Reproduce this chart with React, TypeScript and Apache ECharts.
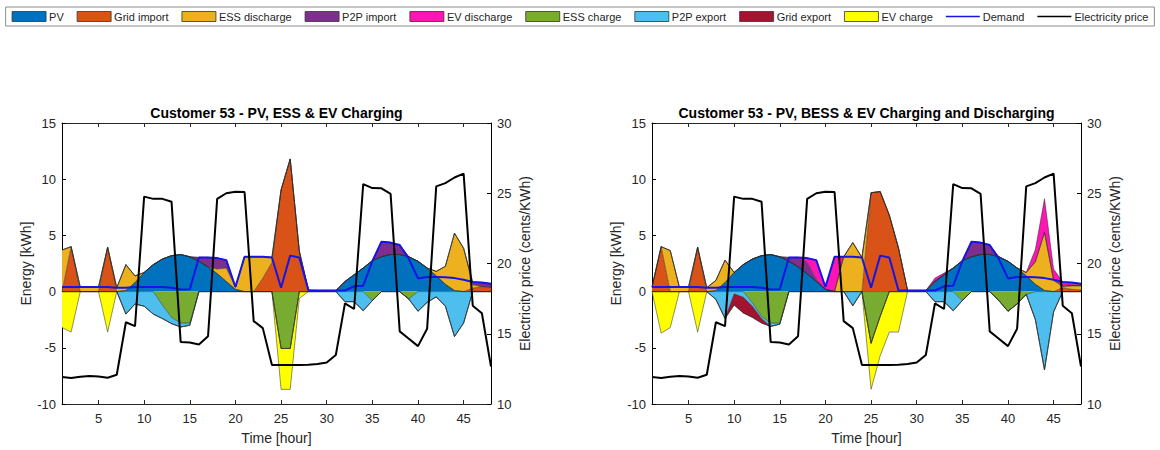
import React, { useEffect, useRef } from "react";
import * as echarts from "echarts";

// Hour of the 48-hour horizon
const hours = [
  1, 2, 3, 4, 5, 6, 7, 8, 9, 10, 11, 12, 13, 14, 15, 16, 17, 18, 19, 20, 21, 22, 23, 24,
  25, 26, 27, 28, 29, 30, 31, 32, 33, 34, 35, 36, 37, 38, 39, 40, 41, 42, 43, 44, 45, 46, 47, 48,
];
const xTicks = [5, 10, 15, 20, 25, 30, 35, 40, 45];

// Electricity price (cents/kWh), same tariff in both scenarios
const price = [
  11.92, 11.85, 11.94, 12.0, 11.96, 11.87, 12.08, 15.82, 15.54, 24.76, 24.6, 24.6, 24.4, 14.42, 14.37, 14.23,
  14.82, 24.6, 25.0, 25.1, 25.09, 15.9, 15.4, 12.78, 12.78, 12.78, 12.78, 12.8, 12.85, 12.95, 13.49, 17.16,
  16.76, 25.65, 25.37, 25.35, 24.95, 15.17, 14.65, 14.12, 15.36, 25.49, 25.72, 26.12, 26.4, 17.0, 16.46, 12.67,
];

// Household demand (kWh)
const demand = [
  0.41, 0.4, 0.4, 0.4, 0.4, 0.4, 0.35, 0.35, 0.4, 0.4, 0.4, 0.4, 0.35, 0.18, 0.2, 3.04,
  3.04, 2.98, 2.8, 0.41, 3.1, 3.1, 3.1, 3.04, 0.35, 3.2, 3.04, 0.12, 0.1, 0.1, 0.1, 0.1,
  0.47, 0.53, 2.7, 4.44, 4.36, 4.15, 2.9, 1.17, 1.3, 1.3, 1.28, 1.2, 1.05, 0.85, 0.8, 0.7,
];

// PV generation (kWh)
const pv = [
  0, 0, 0, 0, 0, 0, 0, 0.1, 0.8, 1.7, 2.4, 2.9, 3.2, 3.3, 3.1, 2.7,
  2.2, 1.6, 0.9, 0.2, 0, 0, 0, 0, 0, 0, 0, 0, 0, 0, 0, 0.9,
  1.5, 2.1, 2.75, 3.1, 3.3, 3.3, 3.1, 2.7, 2.1, 1.4, 0.65, 0.1, 0, 0, 0, 0,
];

// Scenario 1: PV, ESS & EV charging
const gridImportA = [
  0, 4.0, 0, 0, 0, 3.95, 0, 0, 0, 0, 0, 0, 0, 0, 0, 0,
  0, 0, 0, 0, 0, 0, 1.2, 2.6, 9.05, 11.8, 3.6, 0.12, 0.1, 0.1, 0.1, 0,
  0, 0, 0, 0, 0, 0, 0, 0, 0, 0, 0, 0, 0, 0.3, 0.45, 0.4,
];
const essDischargeA = [
  3.7, 0, 0.4, 0.4, 0.4, 0, 0.35, 2.3, 0.6, 0, 0, 0, 0, 0, 0, 0,
  0, 0.4, 1.2, 0.2, 3.1, 3.1, 1.9, 0.44, 0, 0, 0, 0, 0, 0, 0, 0,
  0, 0, 0, 0, 0, 0, 0, 0, 0, 0.4, 1.6, 5.1, 3.86, 0.3, 0, 0,
];
const p2pImportA = [
  0, 0, 0, 0, 0, 0, 0, 0, 0, 0, 0, 0, 0, 0, 0, 0.34,
  0.84, 1.0, 0.7, 0, 0, 0, 0, 0, 0, 0, 0, 0, 0, 0, 0, 0,
  0, 0, 0, 1.34, 1.06, 0.85, 0, 0, 0, 0, 0, 0, 0, 0.25, 0.35, 0.3,
];
const evDischargeA = [
  0, 0, 0, 0, 0, 0, 0, 0, 0, 0, 0, 0, 0, 0, 0, 0,
  0, 0, 0, 0, 0, 0, 0, 0, 0, 0, 0, 0, 0, 0, 0, 0,
  0, 0, 0, 0, 0, 0, 0, 0, 0, 0, 0, 0, 0, 0, 0, 0,
];
const essChargeA = [
  0, 0, 0, 0, 0, 0, 0, 0, 0, 0, 0, -1.2, -2.3, -2.8, -2.8, 0,
  0, 0, 0, 0, 0, 0, 0, 0, -5.06, -5.06, 0, 0, 0, 0, 0, 0,
  0, 0, -0.8, 0, 0, 0, -0.67, 0, 0, 0, 0, 0, 0, 0, 0, 0,
];
const p2pExportA = [
  0, 0, 0, 0, 0, 0, 0, -2.0, -1.1, -1.3, -2.0, -1.2, -0.55, -0.35, -0.2, 0,
  0, 0, 0, 0, 0, 0, 0, 0, 0, 0, 0, 0, 0, 0, 0, -0.9,
  -0.9, -1.7, 0, 0, 0, 0, 0, -1.75, -0.96, -0.47, -1.3, -4.0, -2.8, 0, 0, 0,
];
const gridExportA = [
  0, 0, 0, 0, 0, 0, 0, 0, 0, 0, 0, 0, 0, 0, 0, 0,
  0, 0, 0, 0, 0, 0, 0, 0, 0, 0, 0, 0, 0, 0, 0, 0,
  0, 0, 0, 0, 0, 0, 0, 0, 0, 0, 0, 0, 0, 0, 0, 0,
];
const evChargeA = [
  -3.2, -3.6, 0, 0, 0, -3.6, 0, 0, 0, 0, 0, 0, 0, 0, 0, 0,
  0, 0, 0, 0, 0, 0, 0, 0, -3.64, -3.64, -0.6, 0, 0, 0, 0, 0,
  0, 0, 0, 0, 0, 0, 0, 0, 0, 0, 0, 0, 0, 0, 0, 0,
];

// Scenario 2: PV, BESS & EV charging and discharging
const gridImportB = [
  0.4, 4.0, 0, 0, 0, 3.95, 0, 0, 0, 0, 0, 0, 0, 0, 0, 0,
  0, 0, 0, 0, 0, 0, 0, 0, 8.8, 8.9, 6.8, 3.9, 0.1, 0.1, 0.1, 0,
  0, 0, 0, 0, 0, 0, 0, 0, 0, 0, 0, 0, 0, 0.35, 0.2, 0.15,
];
const essDischargeB = [
  0, 0, 3.65, 0.4, 0.4, 0, 0.35, 0.9, 2.0, 0, 0, 0, 0, 0, 0, 0,
  0, 0, 0, 0, 0, 3.1, 4.36, 3.04, 0, 0, 0, 0, 0, 0, 0, 0,
  0, 0, 0, 0, 0, 0, 0, 0, 0, 0.3, 2.0, 5.16, 1.0, 0.1, 0.3, 0.35,
];
const p2pImportB = [
  0, 0, 0, 0, 0, 0, 0, 0, 0, 0, 0, 0, 0, 0, 0, 0.34,
  0.84, 1.0, 0.2, 0, 0, 0, 0, 0, 0, 0, 0, 0, 0, 0, 0, 0,
  0, 0, 0, 1.34, 1.06, 0.85, 0, 0, 0, 0, 0, 0, 0, 0.1, 0.1, 0.1,
];
const evDischargeB = [
  0, 0, 0, 0, 0, 0, 0, 0, 0, 0, 0, 0, 0, 0, 0, 0,
  0, 0.4, 1.7, 0.2, 3.1, 0, 0, 0, 0, 0, 0, 0, 0, 0, 0, 0.3,
  0.15, 0, 0, 0, 0, 0, 0, 0, 0, 0, 1.1, 3.0, 1.0, 0.3, 0.2, 0.1,
];
const essChargeB = [
  0, 0, 0, 0, 0, 0, 0, 0, 0, 0, 0, -1.0, -2.2, -2.8, -2.8, 0,
  0, 0, 0, 0, 0, 0, 0, 0, -4.6, -2.2, 0, 0, 0, 0, 0, 0,
  0, 0, -0.8, 0, 0, 0, -0.8, -1.75, -1.1, -0.25, 0, 0, 0, 0, 0, 0,
];
const p2pExportB = [
  0, 0, 0, 0, 0, 0, 0, -0.7, -2.4, -0.2, -0.5, -0.3, -0.2, -0.3, -0.1, 0,
  0, 0, 0, 0, 0, 0, -1.26, 0, 0, 0, 0, 0, 0, 0, 0, -0.9,
  -0.9, -1.7, 0, 0, 0, 0, 0, 0, 0, 0, -2.5, -6.96, -1.8, 0, 0, 0,
];
const gridExportB = [
  0, 0, 0, 0, 0, 0, 0, 0, 0, -1.0, -1.4, -1.0, -0.4, 0, 0, 0,
  0, 0, 0, 0, 0, 0, 0, 0, 0, 0, 0, 0, 0, 0, 0, 0,
  0, 0, 0, 0, 0, 0, 0, 0, 0, 0, 0, 0, 0, 0, 0, 0,
];
const evChargeB = [
  0, -3.7, -3.2, 0, 0, -3.6, 0, 0, 0, 0, 0, 0, 0, 0, 0, 0,
  0, 0, 0, 0, 0, 0, 0, 0, -4.1, -3.5, -3.6, -3.6, 0, 0, 0, 0,
  0, 0, 0, 0, 0, 0, 0, 0, 0, 0, 0, 0, 0, 0, 0, 0,
];

const titles = [
  "Customer 53 - PV, ESS & EV Charging",
  "Customer 53 - PV, BESS & EV Charging and Discharging",
];

const COLORS: Record<string, string> = {
  PV: "#0072BD",
  "Grid import": "#D95319",
  "ESS discharge": "#EDB120",
  "P2P import": "#7E2F8E",
  "EV discharge": "#FF14B4",
  "ESS charge": "#77AC30",
  "P2P export": "#4DBEEE",
  "Grid export": "#A2142F",
  "EV charge": "#FFFF00",
};

const FONT = '"Liberation Sans", Arial, Helvetica, sans-serif';
const AXIS = "#262626";

const GRIDS = [
  { left: 62, top: 123, width: 429, height: 285 },
  { left: 652, top: 123, width: 429, height: 285 },
];

type Scenario = {
  pos: [string, number[]][];
  neg: [string, number[]][];
};

const scenarios: Scenario[] = [
  {
    pos: [
      ["PV", pv],
      ["Grid import", gridImportA],
      ["ESS discharge", essDischargeA],
      ["P2P import", p2pImportA],
      ["EV discharge", evDischargeA],
    ],
    neg: [
      ["ESS charge", essChargeA],
      ["P2P export", p2pExportA],
      ["Grid export", gridExportA],
      ["EV charge", evChargeA],
    ],
  },
  {
    pos: [
      ["PV", pv],
      ["Grid import", gridImportB],
      ["ESS discharge", essDischargeB],
      ["P2P import", p2pImportB],
      ["EV discharge", evDischargeB],
    ],
    neg: [
      ["ESS charge", essChargeB],
      ["P2P export", p2pExportB],
      ["Grid export", gridExportB],
      ["EV charge", evChargeB],
    ],
  },
];

const hourLabels = hours.map(String);
const isTick = (_i: number, v: string) => xTicks.includes(Number(v));

function buildOption() {
  const xAxis: any[] = [];
  const yAxis: any[] = [];
  const series: any[] = [];
  const tickFont = { fontSize: 13, color: AXIS, fontFamily: FONT };
  const nameFont = { fontSize: 14, color: AXIS, fontFamily: FONT };

  GRIDS.forEach((_, g) => {
    const tickStyle = { inside: true, length: 4, interval: isTick, lineStyle: { color: AXIS } };
    xAxis.push({
      gridIndex: g,
      type: "category",
      data: hourLabels,
      boundaryGap: false,
      position: "bottom",
      axisLine: { show: true, onZero: false, lineStyle: { color: AXIS, width: 1 } },
      axisTick: tickStyle,
      axisLabel: { interval: isTick, ...tickFont, margin: 8 },
      splitLine: { show: false },
      name: "Time [hour]",
      nameLocation: "middle",
      nameGap: 27,
      nameTextStyle: nameFont,
    });
    xAxis.push({
      gridIndex: g,
      type: "category",
      data: hourLabels,
      boundaryGap: false,
      position: "top",
      axisLine: { show: true, onZero: false, lineStyle: { color: AXIS, width: 1 } },
      axisTick: tickStyle,
      axisLabel: { show: false },
      splitLine: { show: false },
    });
    yAxis.push({
      gridIndex: g,
      type: "value",
      min: -10,
      max: 15,
      interval: 5,
      position: "left",
      axisLine: { show: true, onZero: false, lineStyle: { color: "#000", width: 1 } },
      axisTick: { show: true, inside: true, length: 4, lineStyle: { color: "#000" } },
      axisLabel: { ...tickFont, margin: 6 },
      splitLine: { show: false },
      name: "Energy [kWh]",
      nameLocation: "middle",
      nameRotate: 90,
      nameGap: 27,
      nameTextStyle: nameFont,
    });
    yAxis.push({
      gridIndex: g,
      type: "value",
      min: 10,
      max: 30,
      interval: 5,
      position: "right",
      axisLine: { show: true, onZero: false, lineStyle: { color: "#000", width: 1 } },
      axisTick: { show: true, inside: true, length: 4, lineStyle: { color: "#000" } },
      axisLabel: { ...tickFont, margin: 6 },
      splitLine: { show: false },
      name: "Electricity price (cents/KWh)",
      nameLocation: "middle",
      nameRotate: 90,
      nameGap: 27,
      nameTextStyle: nameFont,
    });

    const sc = scenarios[g];
    const addArea = (name: string, vals: number[], stack: string) => {
      series.push({
        type: "line",
        name,
        data: vals,
        xAxisIndex: g * 2,
        yAxisIndex: g * 2,
        stack: stack + g,
        symbol: "none",
        showSymbol: false,
        lineStyle: { color: "rgba(40,40,40,0.85)", width: 0.6 },
        itemStyle: { color: COLORS[name] },
        areaStyle: { color: COLORS[name], opacity: 1 },
        emphasis: { disabled: true },
        z: 2,
      });
    };
    sc.pos.forEach(([n, v]) => addArea(n, v, "pos"));
    sc.neg.forEach(([n, v]) => addArea(n, v, "neg"));

    series.push({
      type: "line",
      name: "Demand",
      data: demand,
      xAxisIndex: g * 2,
      yAxisIndex: g * 2,
      symbol: "none",
      showSymbol: false,
      lineStyle: { color: "#1515E6", width: 2 },
      itemStyle: { color: "#1515E6" },
      emphasis: { disabled: true },
      z: 5,
    });
    series.push({
      type: "line",
      name: "Electricity price",
      data: price,
      xAxisIndex: g * 2,
      yAxisIndex: g * 2 + 1,
      symbol: "none",
      showSymbol: false,
      lineStyle: { color: "#000", width: 2 },
      itemStyle: { color: "#000" },
      emphasis: { disabled: true },
      z: 6,
    });
  });

  const lineIcon = "path://M0 0H40V2H0Z";
  const legendNames = [
    "PV",
    "Grid import",
    "ESS discharge",
    "P2P import",
    "EV discharge",
    "ESS charge",
    "P2P export",
    "Grid export",
    "EV charge",
  ];
  const legendData: any[] = legendNames.map((n) => ({
    name: n,
    icon: "rect",
    itemStyle: { color: COLORS[n], borderColor: "#333", borderWidth: 0.8 },
  }));
  legendData.push({ name: "Demand", icon: lineIcon, itemStyle: { color: "#1515E6", borderWidth: 0 } });
  legendData.push({ name: "Electricity price", icon: lineIcon, itemStyle: { color: "#000", borderWidth: 0 } });

  return {
    animation: false,
    backgroundColor: "#fff",
    grid: GRIDS.map((g) => ({ ...g, containLabel: false })),
    xAxis,
    yAxis,
    legend: {
      data: legendData,
      top: 7,
      left: "center",
      itemWidth: 34,
      itemHeight: 10,
      itemGap: 13,
      padding: [4, 6, 4, 6],
      borderColor: "#8c8c8c",
      borderWidth: 1,
      selectedMode: false,
      textStyle: { fontSize: 11, color: "#262626", fontFamily: FONT, padding: [0, 0, 0, -2] },
    },
    graphic: titles.map((t, g) => ({
      type: "text",
      x: GRIDS[g].left + GRIDS[g].width / 2,
      y: 113,
      style: {
        text: t,
        font: `bold 14px ${FONT}`,
        fill: "#000",
        align: "center",
        verticalAlign: "middle",
      },
    })),
    series,
  };
}

export default function App() {
  const ref = useRef<HTMLDivElement>(null);
  useEffect(() => {
    document.body.style.margin = "0";
    if (!ref.current) return;
    const chart = echarts.init(ref.current, undefined, { renderer: "svg" });
    chart.setOption(buildOption());
    return () => chart.dispose();
  }, []);
  return <div ref={ref} style={{ width: 1160, height: 450 }} />;
}
